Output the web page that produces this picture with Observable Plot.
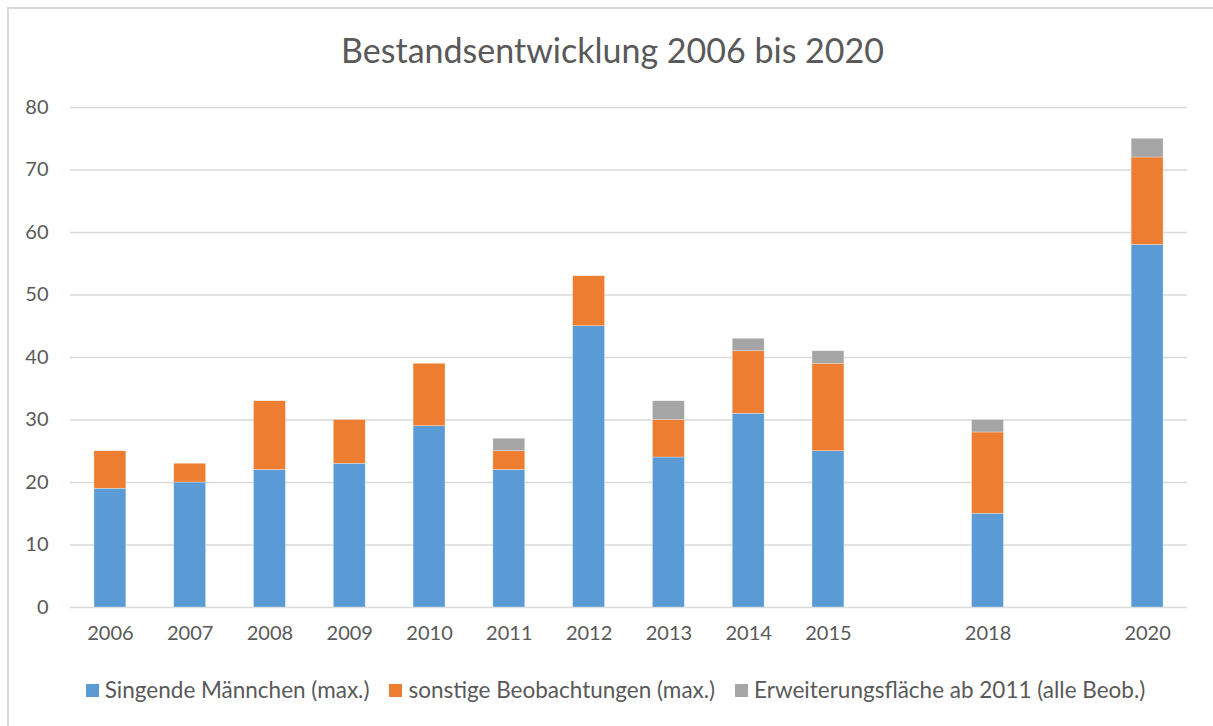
<!DOCTYPE html>
<html>
<head>
<meta charset="utf-8">
<script src="https://cdn.jsdelivr.net/npm/d3@7"></script>
<script src="https://cdn.jsdelivr.net/npm/@observablehq/plot@0.6"></script>
<style>
  html, body { margin: 0; padding: 0; background: #fff; overflow: hidden; }
  body { width: 1213px; height: 726px; position: relative; font-family: Lato, "Open Sans", sans-serif; color: #595959; }
  #frame { position: absolute; left: 7px; top: 7px; width: 1400px; height: 900px; border: 2px solid #D9D9D9; box-sizing: border-box; }
  #title { position: absolute; left: 0; width: 1225px; top: 29px; text-align: center; font-size: 34px; line-height: 42px; color: #595959; }
  #chart { position: absolute; left: 0; top: 80px; }
  #legend { position: absolute; left: 0; width: 1231px; top: 676px; display: flex; justify-content: center; align-items: center; font-size: 22.5px; line-height: 28px; color: #595959; }
  .item { display: flex; align-items: center; margin: 0 10px; }
  .sw { width: 13px; height: 13px; margin-right: 6px; }
</style>
</head>
<body>
<div id="frame"></div>
<div id="title">Bestandsentwicklung 2006 bis 2020</div>
<div id="chart"></div>
<div id="legend"></div>
<script>
// Category slots (blank strings are the gaps for missing years)
const slots = ["2006","2007","2008","2009","2010","2011","2012","2013","2014","2015","","2018"," ","2020"];
const years = ["2006","2007","2008","2009","2010","2011","2012","2013","2014","2015","2018","2020"];
const seriesNames = ["Singende Männchen (max.)", "sonstige Beobachtungen (max.)", "Erweiterungsfläche ab 2011 (alle Beob.)"];
const singende    = [19, 20, 22, 23, 29, 22, 45, 24, 31, 25, 15, 58];
const sonstige    = [ 6,  3, 11,  7, 10,  3,  8,  6, 10, 14, 13, 14];
const erweiterung = [ 0,  0,  0,  0,  0,  2,  0,  3,  2,  2,  2,  3];
const colors = ["#5B9BD5", "#ED7D31", "#A5A5A5"];
const yTicks = [0, 10, 20, 30, 40, 50, 60, 70, 80];

const seriesValues = [singende, sonstige, erweiterung];
const rows = [];
seriesNames.forEach((s, i) => {
  years.forEach((y, j) => rows.push({year: y, series: s, value: seriesValues[i][j]}));
});

const chart = Plot.plot({
  width: 1213,
  height: 577,
  marginTop: 27,
  marginBottom: 50,
  marginLeft: 70,
  marginRight: 26,
  style: { fontFamily: "Lato, 'Open Sans', sans-serif", fontSize: "20px", color: "#595959", background: "transparent" },
  x: { type: "band", domain: slots, paddingInner: 0.6, paddingOuter: 0.3, round: false, label: null },
  y: { domain: [0, 80], label: null },
  color: { domain: seriesNames, range: colors },
  marks: [
    Plot.gridY(yTicks, { stroke: "#D9D9D9", strokeOpacity: 1, strokeWidth: 1.3 }),
    Plot.barY(rows, { x: "year", y: "value", fill: "series", stroke: "#ffffff", strokeWidth: 0.6, strokeOpacity: 0.5 }),
    Plot.axisY(yTicks, { tickSize: 0, tickPadding: 22, fill: "#595959", label: null }),
    Plot.axisX({ tickSize: 0, tickPadding: 18, fill: "#595959", label: null, tickFormat: d => d.trim() })
  ]
});
document.getElementById("chart").appendChild(chart);

const legend = document.getElementById("legend");
seriesNames.forEach((s, i) => {
  const item = document.createElement("div");
  item.className = "item";
  const sw = document.createElement("div");
  sw.className = "sw";
  sw.style.background = colors[i];
  const t = document.createElement("span");
  t.textContent = s;
  item.appendChild(sw);
  item.appendChild(t);
  legend.appendChild(item);
});
</script>
</body>
</html>
